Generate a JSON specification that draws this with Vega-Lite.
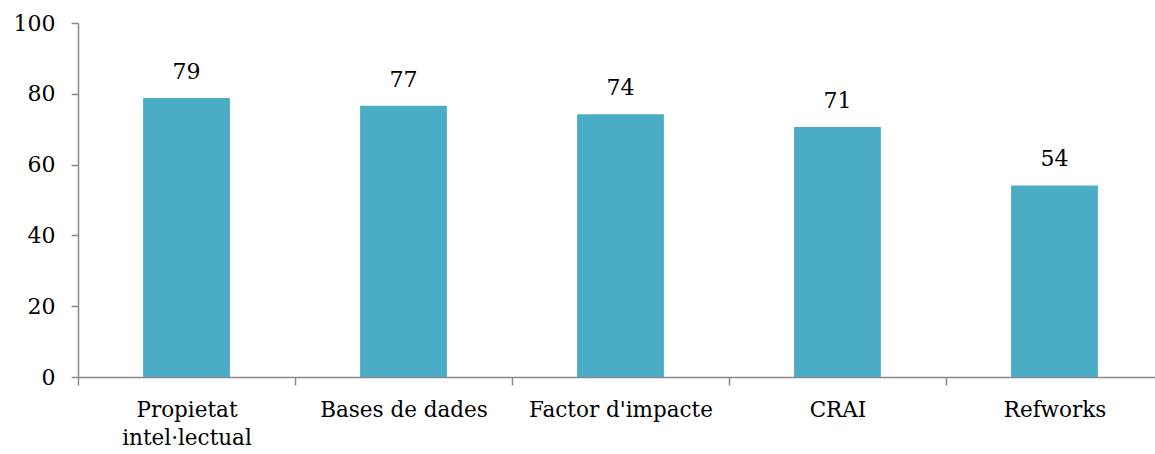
{
  "$schema": "https://vega.github.io/schema/vega-lite/v6.json",
  "autosize": {"type": "none"},
  "padding": {"left": 78, "top": 23, "right": 0, "bottom": 77},
  "width": 1085,
  "height": 354,
  "background": "white",
  "config": {"view": {"stroke": null}, "font": "DejaVu Serif"},
  "data": {"values": [
    {"category": "Propietat intel·lectual", "value": 78.8},
    {"category": "Bases de dades", "value": 76.6},
    {"category": "Factor d'impacte", "value": 74.2},
    {"category": "CRAI", "value": 70.6},
    {"category": "Refworks", "value": 54.1}
  ]},
  "encoding": {
    "x": {"field": "category", "type": "nominal", "sort": null,
      "scale": {"paddingInner": 0, "paddingOuter": 0},
      "axis": {"title": null, "labelAngle": 0, "labelFont": "DejaVu Serif", "labelFontSize": 21.5, "labelColor": "#000000", "labelLimit": 400,
        "labelPadding": 14, "tickBand": "extent", "tickSize": 8, "tickColor": "#898989", "domainColor": "#898989", "domainWidth": 1.5, "tickWidth": 1.5,
        "labelLineHeight": 28, "labelBaseline": "top",
        "labelExpr": "datum.label == 'Propietat intel·lectual' ? ['Propietat', 'intel·lectual'] : datum.label"}},
    "y": {"field": "value", "type": "quantitative",
      "scale": {"domain": [0, 100], "nice": false},
      "axis": {"title": null, "values": [0, 20, 40, 60, 80, 100], "grid": false, "labelFont": "DejaVu Serif", "labelFontSize": 22, "labelColor": "#000000",
        "labelPadding": 16, "tickSize": 7, "tickColor": "#898989", "domainColor": "#898989", "domainWidth": 1.5, "tickWidth": 1.5}}
  },
  "layer": [
    {"mark": {"type": "bar", "color": "#4BACC6", "width": {"band": 0.4}}},
    {"mark": {"type": "text", "dy": -14, "baseline": "bottom", "fontSize": 22, "font": "DejaVu Serif", "color": "#000000"},
      "encoding": {"text": {"field": "value", "type": "quantitative", "format": ".0f"}}}
  ]
}
